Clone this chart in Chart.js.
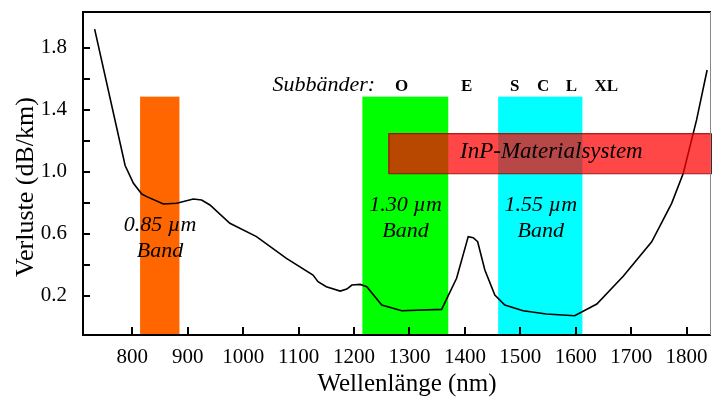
<!DOCTYPE html>
<html>
<head>
<meta charset="utf-8">
<script src="https://cdn.jsdelivr.net/npm/chart.js@4.4.0/dist/chart.umd.min.js"></script>
<style>
  html, body { margin: 0; padding: 0; background: #fff; }
</style>
</head>
<body>
<canvas id="chart" width="712" height="398"></canvas>
<script>
// fibre attenuation curve

const wavelengths = [732, 787, 802, 817, 826, 856, 880, 910, 925, 940, 976, 1024, 1078, 1126, 1135, 1150, 1175, 1187, 1196, 1211, 1223, 1250, 1286, 1358, 1385, 1406, 1415, 1423, 1436, 1454, 1472, 1505, 1547, 1598, 1638, 1686, 1737, 1773, 1794, 1818, 1837];
const losses = [1.92, 1.04, 0.925, 0.856, 0.839, 0.792, 0.796, 0.824, 0.817, 0.785, 0.667, 0.581, 0.441, 0.333, 0.29, 0.258, 0.23, 0.243, 0.269, 0.273, 0.258, 0.14, 0.103, 0.112, 0.312, 0.581, 0.574, 0.548, 0.366, 0.204, 0.14, 0.103, 0.082, 0.071, 0.146, 0.327, 0.548, 0.796, 0.99, 1.334, 1.656];

const xTicks = [800, 900, 1000, 1100, 1200, 1300, 1400, 1500, 1600, 1700, 1800];
const yTicks = [0.2, 0.4, 0.6, 0.8, 1.0, 1.2, 1.4, 1.6, 1.8];
const yLabelled = [0.2, 0.6, 1.0, 1.4, 1.8];

// transmission windows
const bandNames = ["0.85 µm", "1.30 µm", "1.55 µm"];
const bandStart = [814, 1215, 1460];
const bandEnd = [885, 1370, 1612];
const bandTop = [1.484, 1.484, 1.484];

// ITU sub bands
const subBands = ["O", "E", "S", "C", "L", "XL"];
const subBandCenter = [1286, 1403, 1490, 1541, 1592, 1655];

// InP material system
const inpName = "InP-Materialsystem";
const inpRange = [1262, 1844];
const inpLoss = [0.99, 1.248];

const serif = "'Liberation Serif', 'Times New Roman', serif";
const bandColors = ["#ff6600", "#00ff00", "#00ffff"];

const overlay = {
    id: "overlay",
    beforeDatasetsDraw(chart) {
        const { ctx, scales: { x, y } } = chart;
        const bottom = chart.chartArea.bottom;
        ctx.save();
        bandStart.forEach((s, i) => {
            const l = x.getPixelForValue(s);
            const r = x.getPixelForValue(bandEnd[i]);
            const t = y.getPixelForValue(bandTop[i]);
            ctx.fillStyle = bandColors[i];
            ctx.fillRect(l, t, r - l, bottom - t);
        });
        ctx.restore();
    },
    afterDatasetsDraw(chart) {
        const { ctx, chartArea: a, scales: { x, y } } = chart;
        ctx.save();

        // InP box
        const l = x.getPixelForValue(inpRange[0]);
        const r = x.getPixelForValue(inpRange[1]);
        const t = y.getPixelForValue(inpLoss[1]);
        const b = y.getPixelForValue(inpLoss[0]);
        ctx.fillStyle = "rgba(255,0,0,0.72)";
        ctx.fillRect(l, t, r - l, b - t);
        ctx.strokeStyle = "#a00000";
        ctx.lineWidth = 1;
        ctx.strokeRect(l + 0.5, t + 0.5, r - l, b - t);

        ctx.fillStyle = "#000";
        ctx.textAlign = "center";
        ctx.textBaseline = "alphabetic";
        ctx.font = "italic 23px " + serif;
        ctx.fillText(inpName, x.getPixelForValue(1556), y.getPixelForValue(1.086));

        // band labels
        ctx.font = "italic 22px " + serif;
        const lines = [[0.617, 0.45], [0.748, 0.581], [0.748, 0.581]];
        const centers = [850, 1293, 1537];
        bandNames.forEach((n, i) => {
            const cx = x.getPixelForValue(centers[i]);
            ctx.fillText(n, cx, y.getPixelForValue(lines[i][0]));
            ctx.fillText("Band", cx, y.getPixelForValue(lines[i][1]));
        });

        // sub bands
        ctx.textAlign = "right";
        ctx.fillText("Subbänder:", x.getPixelForValue(1238), y.getPixelForValue(1.52));
        ctx.textAlign = "center";
        ctx.font = "bold 17px " + serif;
        subBands.forEach((s, i) => {
            ctx.fillText(s, x.getPixelForValue(subBandCenter[i]), y.getPixelForValue(1.52));
        });

        // inward ticks
        ctx.fillStyle = "#000";
        xTicks.forEach(v => {
            const px = Math.round(x.getPixelForValue(v));
            ctx.fillRect(px - 1, a.bottom - 8, 2, 8);
        });
        yTicks.forEach(v => {
            const py = Math.round(y.getPixelForValue(v));
            ctx.fillRect(a.left, py - 1, 7, 2);
        });

        // frame: thick top, left, bottom, thin grey right
        ctx.fillRect(a.left - 1, a.top - 1, a.right - a.left + 1, 2);
        ctx.fillRect(a.left - 1, a.top - 1, 2, a.bottom - a.top + 2);
        ctx.fillRect(a.left - 1, a.bottom - 1, a.right - a.left + 1, 2);
        ctx.fillStyle = "#888";
        ctx.fillRect(a.right - 1, a.top, 1, a.bottom - a.top);

        // axis titles
        ctx.fillStyle = "#000";
        ctx.font = "25px " + serif;
        ctx.textAlign = "center";
        ctx.fillText("Wellenlänge (nm)", 407, 391);
        ctx.translate(33, 187);
        ctx.rotate(-Math.PI / 2);
        ctx.font = "26px " + serif;
        ctx.fillText("Verluste (dB/km)", 0, 0);
        ctx.restore();
    }
};

// fixed box sizes, no label padding
const fixBox = (w, h) => s => {
    if (w) s.width = w;
    if (h) s.height = h;
    s.paddingTop = s.paddingBottom = s.paddingLeft = s.paddingRight = 0;
};

new Chart(document.getElementById("chart"), {
    type: "line",
    data: {
        datasets: [
            {
                data: wavelengths.map((w, i) => ({ x: w, y: losses[i] })),
                borderColor: "#000",
                borderWidth: 1.6,
                pointRadius: 0,
                tension: 0,
                fill: false,
            },
        ],
    },
    options: {
        responsive: false,
        animation: false,
        devicePixelRatio: 1,
        layout: { autoPadding: false, padding: { top: 12, right: 1, left: 0, bottom: 0 } },
        plugins: {
            legend: { display: false },
            tooltip: { enabled: false },
        },
        scales: {
            x: {
                type: "linear",
                min: 711,
                max: 1844,
                grid: { display: false, drawTicks: false },
                border: { display: false },
                afterBuildTicks: s => { s.ticks = xTicks.map(v => ({ value: v })); },
                afterFit: fixBox(0, 63),
                ticks: {
                    color: "#000",
                    padding: 10,
                    maxRotation: 0,
                    autoSkip: false,
                    font: { family: serif, size: 21 },
                    callback: v => String(v),
                },
            },
            y: {
                min: -0.0535,
                max: 2.03,
                grid: { display: false, drawTicks: false },
                border: { display: false },
                afterBuildTicks: s => { s.ticks = yTicks.map(v => ({ value: v })); },
                afterFit: fixBox(83, 0),
                ticks: {
                    color: "#000",
                    padding: 16,
                    autoSkip: false,
                    font: { family: serif, size: 21 },
                    callback: v => yLabelled.some(l => Math.abs(l - v) < 1e-6) ? v.toFixed(1) : "",
                },
            },
        },
    },
    plugins: [overlay],
});
</script>
</body>
</html>
